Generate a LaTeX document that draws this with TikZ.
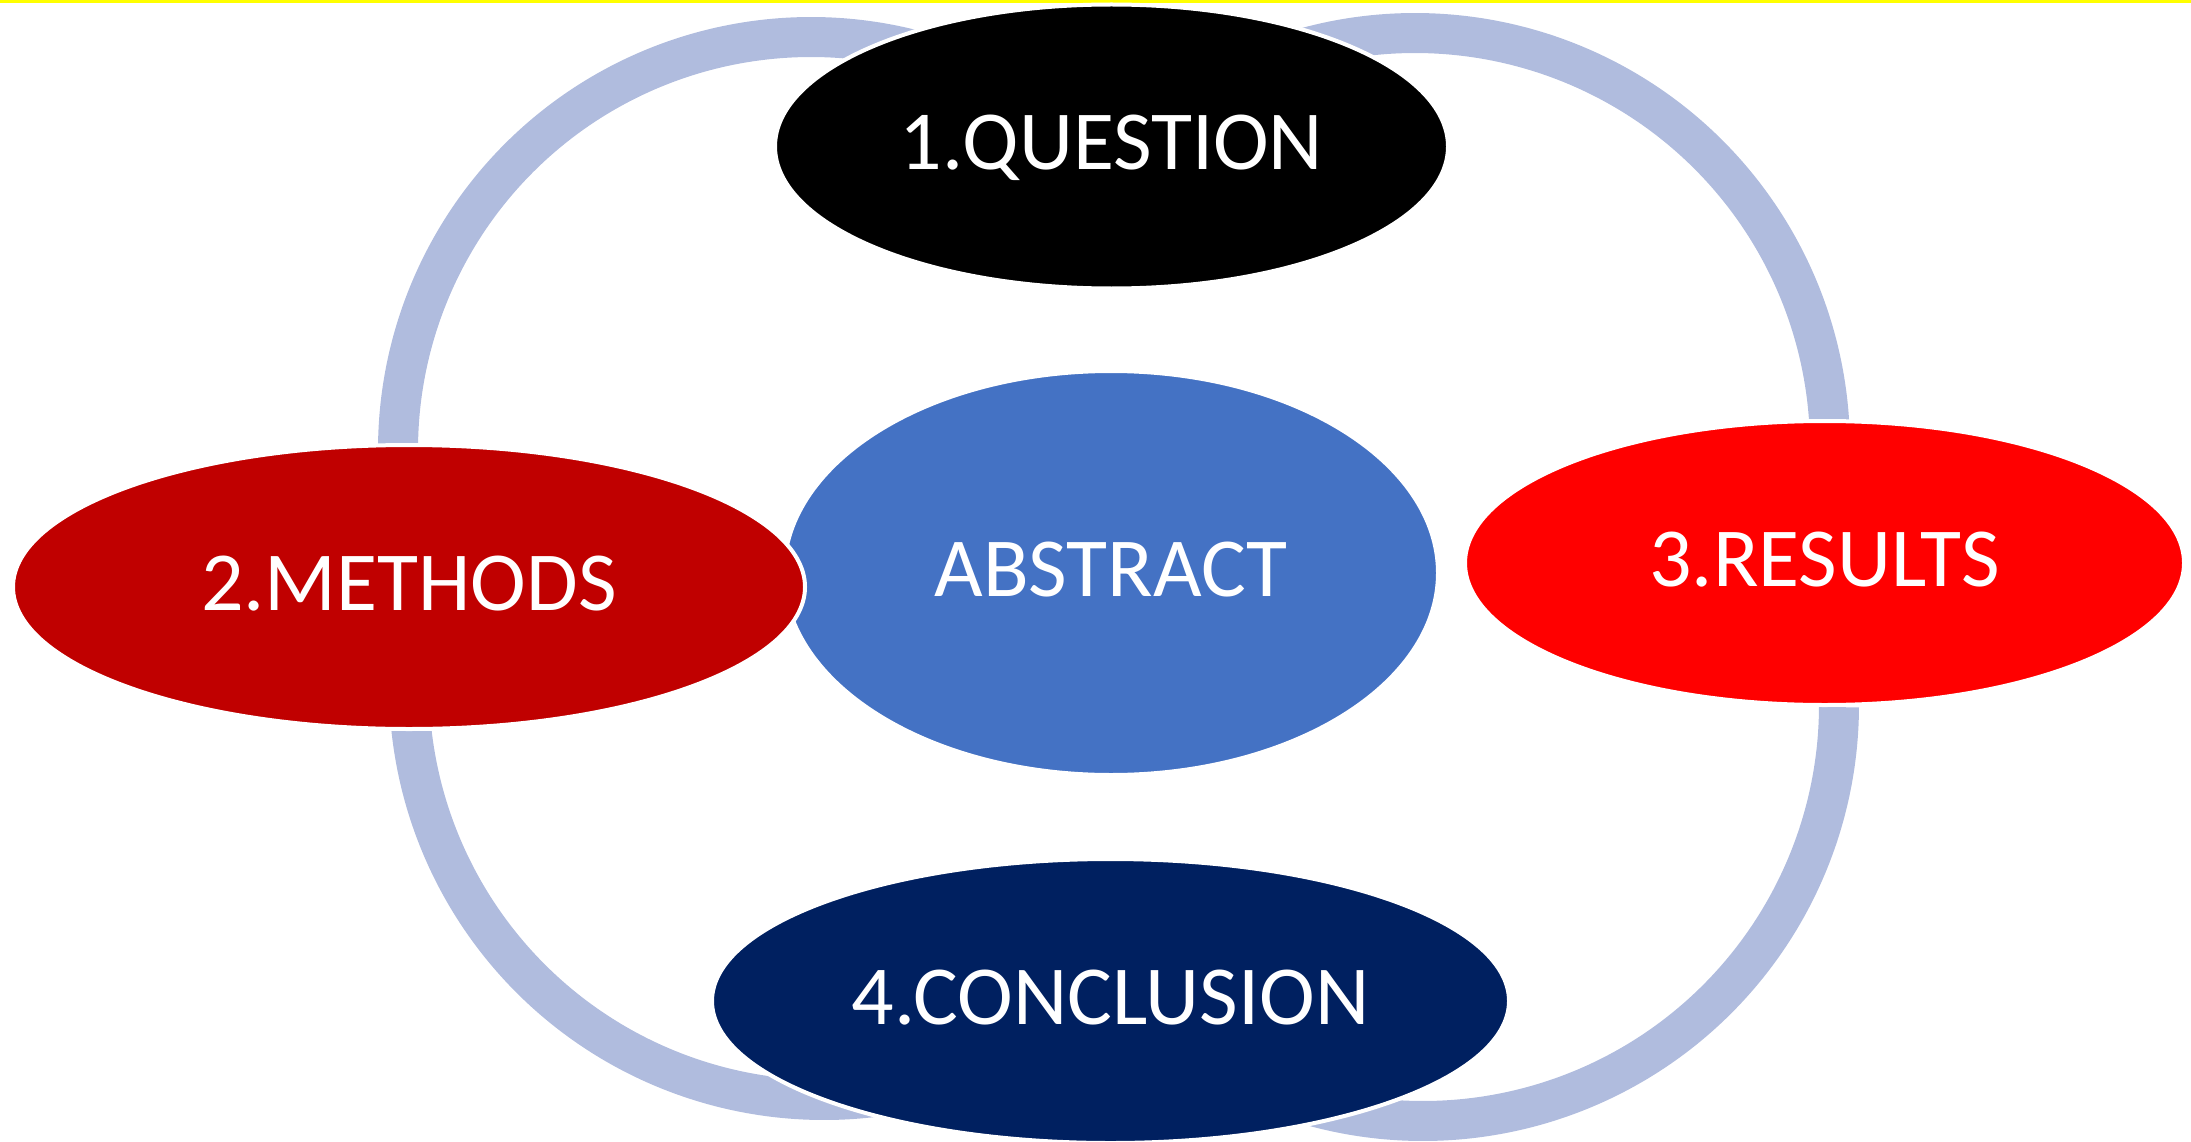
\documentclass[tikz,border=0pt]{standalone}
\usepackage{fontspec}
\setmainfont{Carlito}
\usetikzlibrary{shapes.geometric}
\definecolor{ringblue}{RGB}{176,188,222}
\definecolor{qblack}{RGB}{0,0,0}
\definecolor{mred}{RGB}{192,0,0}
\definecolor{ablue}{RGB}{68,114,196}
\definecolor{rred}{RGB}{255,0,0}
\definecolor{cnavy}{RGB}{0,32,96}
\definecolor{topline}{RGB}{255,255,0}
\begin{document}
\begin{tikzpicture}[x=1pt,y=1pt,
  blob/.style={ellipse, draw=white, line width=4pt, inner sep=0pt, text=white,
    font=\fontsize{84}{84}\selectfont, text height=53pt, text depth=6pt},
  ring/.style={draw=ringblue, line width=40pt}]
\useasboundingbox (0,0) rectangle (2191,-1142);
\fill[topline] (0,0) rectangle (2191,-3);
% rings
\coordinate (tlc) at (811,-450);
\coordinate (trc) at (1415,-448);
\coordinate (blc) at (824,-685);
\coordinate (brc) at (1423,-705);
\draw[ring] (tlc) ++(179.3:413) arc[start angle=179.3, end angle=68, radius=413];
\draw[ring] (trc) ++(3.6:415) arc[start angle=3.6, end angle=112, radius=415];
\draw[ring] (blc) ++(186:415) arc[start angle=186, end angle=292, radius=415];
\draw[ring] (brc) ++(-0.3:416) arc[start angle=-0.3, end angle=-112, radius=416];
% ellipses
\node[blob, fill=ablue, minimum width=654, minimum height=404] (abs) at (1111,-573) {ABSTRACT};
\node[blob, fill=qblack, minimum width=673, minimum height=284] (que) at (1111.5,-146.5) {1.QUESTION};
\node[blob, fill=rred, minimum width=719, minimum height=284] (res) at (1824.5,-563) {3.RESULTS};
\node[blob, fill=cnavy, minimum width=797, minimum height=284] (con) at (1110.5,-1001) {4.CONCLUSION};
\node[blob, fill=mred, minimum width=792, minimum height=284] (met) at (409,-587) {2.METHODS};
\end{tikzpicture}
\end{document}
